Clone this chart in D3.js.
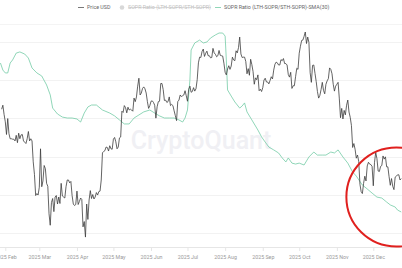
<!DOCTYPE html>
<html>
<head>
<meta charset="utf-8">
<script src="https://cdn.jsdelivr.net/npm/d3@7"></script>
<style>
  body { margin: 0; background: #fff; }
  svg { display: block; font-family: Roboto, "Noto Sans", sans-serif; }
</style>
</head>
<body>
<svg id="chart" width="402" height="268"></svg>
<script>
// BTC price, daily close in thousand USD (first value of each array is the start day)
const priceJan = [103.7, 104.7, 102.4] // from Jan 29
const priceFeb = [100.6, 97.6, 101.4, 97.8, 96.6, 96.6, 96.5, 96.5, 96.1, 97.4, 95.7, 97.9, 96.6, 97.5, 97.6, 96.1, 95.8, 95.5, 96.6, 98.3, 96.1, 96.6, 96.1, 91.4, 88.7, 84.3, 84.7, 84.4]
const priceMar = [86.0, 94.3, 86.1, 87.3, 90.6, 89.9, 86.8, 86.2, 80.7, 78.5, 82.9, 83.7, 81.1, 84.0, 84.3, 82.6, 84.0, 82.7, 86.8, 84.2, 84.0, 83.8, 86.1, 87.5, 87.5, 86.9, 87.2, 84.3, 82.6, 82.3, 82.5]
const priceApr = [85.2, 82.5, 83.1, 83.8, 83.5, 78.2, 79.2, 76.3, 82.6, 79.6, 83.4, 85.3, 83.7, 84.5, 83.6, 84.0, 84.9, 84.4, 85.1, 85.2, 87.5, 93.4, 93.7, 93.9, 94.7, 94.6, 93.8, 95.0, 94.3, 94.2]
const priceMay = [96.5, 96.9, 95.9, 94.3, 94.7, 96.8, 97.0, 103.2, 102.9, 104.6, 104.1, 102.8, 104.2, 103.5, 103.7, 103.5, 103.2, 106.5, 105.6, 106.8, 109.6, 111.7, 107.3, 107.8, 109.0, 109.4, 108.9, 107.8, 105.6, 103.9, 104.6]
const priceJun = [105.7, 105.8, 105.4, 104.7, 101.5, 104.3, 105.6, 105.7, 110.3, 110.3, 108.7, 105.9, 106.0, 105.4, 105.6, 106.8, 104.6, 104.9, 104.6, 103.3, 102.1, 100.9, 105.6, 106.0, 107.3, 106.9, 107.1, 107.3, 108.4, 107.1]
const priceJul = [105.7, 108.8, 109.6, 108.0, 108.2, 109.2, 108.3, 108.9, 111.3, 115.9, 117.5, 117.4, 119.1, 119.8, 117.7, 118.6, 119.2, 117.9, 117.9, 117.3, 117.4, 120.0, 118.7, 118.3, 117.6, 117.9, 119.4, 118.0, 117.9, 117.8, 115.8]
const priceAug = [113.3, 112.6, 114.2, 115.1, 114.1, 115.0, 117.5, 116.7, 116.5, 119.3, 118.7, 120.2, 123.3, 118.4, 117.4, 117.5, 117.5, 116.3, 112.9, 114.3, 112.5, 116.9, 115.4, 113.5, 110.1, 111.8, 111.3, 112.6, 108.4, 108.8, 108.2]
const priceSep = [109.2, 111.2, 111.7, 110.7, 110.7, 110.2, 111.1, 112.1, 111.5, 113.9, 115.5, 116.1, 115.9, 115.3, 115.3, 116.8, 116.5, 117.1, 115.7, 115.7, 115.3, 112.7, 112.0, 113.3, 109.0, 109.7, 109.7, 112.1, 114.4, 114.1]
const priceOct = [118.6, 120.6, 122.3, 122.4, 123.5, 124.8, 121.4, 123.3, 121.7, 113.2, 110.6, 115.2, 115.3, 113.0, 110.8, 108.2, 106.5, 107.2, 108.7, 110.6, 108.5, 107.6, 110.1, 111.0, 111.6, 114.5, 114.1, 112.9, 110.1, 108.3, 109.6]
const priceNov = [110.1, 110.6, 106.5, 101.6, 103.9, 101.3, 103.4, 102.3, 104.7, 106.0, 103.0, 101.7, 99.7, 94.6, 95.5, 94.2, 92.2, 92.9, 91.5, 86.6, 85.1, 84.7, 86.8, 88.3, 87.3, 90.5, 91.3, 90.9, 90.8, 90.4]
const priceDec = [86.3, 91.3, 93.5, 92.1, 89.4, 89.3, 90.4, 90.6, 92.7, 92.0, 92.5, 90.3, 90.3, 88.2, 86.4, 87.8, 86.2, 85.5, 88.1, 88.3, 88.6, 88.6, 87.5, 87.8]

// SOPR Ratio (LTH-SOPR/STH-SOPR) SMA(30)
const soprDates = ['2025-01-28', '2025-01-30', '2025-02-01', '2025-02-03', '2025-02-05', '2025-02-07', '2025-02-10', '2025-02-13', '2025-02-17', '2025-02-20', '2025-02-23', '2025-02-27',
  '2025-03-03', '2025-03-07', '2025-03-10', '2025-03-12', '2025-03-16', '2025-03-20', '2025-03-24', '2025-03-28', '2025-04-01', '2025-04-04', '2025-04-07', '2025-04-10',
  '2025-04-13', '2025-04-17', '2025-04-22', '2025-04-28', '2025-05-02', '2025-05-06', '2025-05-10', '2025-05-14', '2025-05-18', '2025-05-22', '2025-05-26', '2025-05-31',
  '2025-06-04', '2025-06-08', '2025-06-12', '2025-06-16', '2025-06-20', '2025-06-24', '2025-06-27', '2025-06-29', '2025-07-01', '2025-07-03', '2025-07-04', '2025-07-07',
  '2025-07-11', '2025-07-14', '2025-07-17', '2025-07-20', '2025-07-24', '2025-07-27', '2025-07-30', '2025-08-01', '2025-08-02', '2025-08-03', '2025-08-06', '2025-08-09',
  '2025-08-13', '2025-08-15', '2025-08-17', '2025-08-19', '2025-08-23', '2025-08-28', '2025-08-31', '2025-09-03', '2025-09-06', '2025-09-10', '2025-09-14', '2025-09-17',
  '2025-09-20', '2025-09-22', '2025-09-25', '2025-09-28', '2025-10-01', '2025-10-05', '2025-10-09', '2025-10-13', '2025-10-16', '2025-10-20', '2025-10-23', '2025-10-27',
  '2025-10-30', '2025-11-02', '2025-11-06', '2025-11-10', '2025-11-14', '2025-11-17', '2025-11-22', '2025-11-25', '2025-11-30', '2025-12-04', '2025-12-08', '2025-12-12',
  '2025-12-15', '2025-12-19', '2025-12-21', '2025-12-24']
const soprValues = [1.890, 1.853, 1.838, 1.838, 1.890, 1.906, 1.942, 1.948, 1.937, 1.916, 1.864, 1.838,
  1.822, 1.775, 1.723, 1.654, 1.623, 1.607, 1.602, 1.602, 1.597, 1.581, 1.628, 1.660,
  1.670, 1.670, 1.644, 1.628, 1.613, 1.592, 1.571, 1.571, 1.602, 1.618, 1.634, 1.644,
  1.628, 1.613, 1.602, 1.602, 1.602, 1.592, 1.581, 1.602, 1.644, 1.801, 1.958, 1.995,
  2.010, 1.995, 2.000, 2.021, 2.037, 2.047, 2.047, 2.031, 1.906, 1.749, 1.717, 1.686,
  1.654, 1.665, 1.681, 1.634, 1.592, 1.539, 1.503, 1.476, 1.450, 1.435, 1.419, 1.393,
  1.372, 1.393, 1.366, 1.361, 1.366, 1.356, 1.398, 1.424, 1.408, 1.408, 1.408, 1.424,
  1.419, 1.435, 1.398, 1.366, 1.319, 1.298, 1.251, 1.236, 1.209, 1.188, 1.183, 1.162,
  1.147, 1.136, 1.120, 1.110]

const legendLabels = ['Price USD', 'SOPR Ratio (LTH-SOPR/STH-SOPR)', 'SOPR Ratio (LTH-SOPR/STH-SOPR)-SMA(30)']

// build price rows
const priceMonths = [[0, 29, priceJan], [1, 1, priceFeb], [2, 1, priceMar], [3, 1, priceApr], [4, 1, priceMay], [5, 1, priceJun],
  [6, 1, priceJul], [7, 1, priceAug], [8, 1, priceSep], [9, 1, priceOct], [10, 1, priceNov], [11, 1, priceDec]]
let price = []
priceMonths.forEach(([m, d0, vals]) => {
  vals.forEach((v, i) => price.push({ date: new Date(2025, m, d0 + i), value: v }))
})
const parse = d3.timeParse('%Y-%m-%d')
let sopr = soprDates.map((d, i) => ({ date: parse(d), value: soprValues[i] }))

let svg = d3.select('#chart')
const W = 402, plotTop = 24, plotBottom = 247

let x = d3.scaleTime([new Date(2025, 1, 1), new Date(2025, 11, 1)], [5.3, 373.3])
let yPrice = d3.scaleLog([70, 130], [273, 15])
let ySopr = d3.scaleLinear([1.0, 2.0], [233, 42])

// grid
svg.append('line').attr('x1', 0).attr('x2', W).attr('y1', plotTop + 0.5).attr('y2', plotTop + 0.5)
  .attr('stroke', '#f4f4f4')
svg.append('g').selectAll('line').data(ySopr.ticks(5)).join('line')
  .attr('x1', 0).attr('x2', W)
  .attr('y1', d => Math.round(ySopr(d)) + 0.5).attr('y2', d => Math.round(ySopr(d)) + 0.5)
  .attr('stroke', '#f2f2f2')

// watermark
svg.append('text').attr('x', 201).attr('y', 149).attr('text-anchor', 'middle')
  .attr('font-size', 25).attr('font-weight', 500).attr('fill', '#f0f0f4')
  .text('CryptoQuant')

// x axis
svg.append('line').attr('x1', 0).attr('x2', W).attr('y1', plotBottom + 0.5).attr('y2', plotBottom + 0.5)
  .attr('stroke', '#e6e6e6')
let xAxis = d3.axisBottom(x).ticks(d3.timeMonth.every(1)).tickFormat(d3.timeFormat('%Y %b')).tickSize(4).tickPadding(4)
let gx = svg.append('g').attr('transform', `translate(0, ${plotBottom})`).call(xAxis)
gx.select('.domain').remove()
gx.selectAll('line').attr('stroke', '#e6e6e6')
gx.selectAll('text').attr('fill', '#9a9a9a').attr('font-size', 5.3).attr('font-family', 'Roboto, "Noto Sans", sans-serif')

// lines
svg.append('clipPath').attr('id', 'clip').append('rect')
  .attr('x', 0).attr('y', plotTop).attr('width', W).attr('height', plotBottom - plotTop)
let plot = svg.append('g').attr('clip-path', 'url(#clip)')

plot.append('path').datum(sopr)
  .attr('d', d3.line().x(d => x(d.date)).y(d => ySopr(d.value)))
  .attr('fill', 'none').attr('stroke', '#74cca6').attr('stroke-width', 0.8)

plot.append('path').datum(price)
  .attr('d', d3.line().x(d => x(d.date)).y(d => yPrice(d.value)))
  .attr('fill', 'none').attr('stroke', '#3c3c3c').attr('stroke-width', 0.8)

// red annotation circle
svg.append('ellipse')
  .attr('cx', x(new Date(2025, 11, 20))).attr('cy', yPrice(84.0))
  .attr('rx', 50).attr('ry', 49.5)
  .attr('fill', 'none').attr('stroke', '#e0201e').attr('stroke-width', 2)

// legend
let lg = svg.append('g').attr('font-size', 5.3)
lg.append('line').attr('x1', 78).attr('x2', 84).attr('y1', 7.5).attr('y2', 7.5).attr('stroke', '#555').attr('stroke-width', 0.8)
lg.append('text').attr('x', 87).attr('y', 9.3).attr('fill', '#666').text(legendLabels[0])
lg.append('circle').attr('cx', 122).attr('cy', 7.5).attr('r', 2.3).attr('fill', '#d8d8d8')
lg.append('text').attr('x', 128).attr('y', 9.3).attr('fill', '#c0c0c0').attr('text-decoration', 'line-through').text(legendLabels[1])
lg.append('line').attr('x1', 215).attr('x2', 221).attr('y1', 7.5).attr('y2', 7.5).attr('stroke', '#74cca6').attr('stroke-width', 0.8)
lg.append('text').attr('x', 224).attr('y', 9.3).attr('fill', '#666').text(legendLabels[2])
</script>
</body>
</html>
